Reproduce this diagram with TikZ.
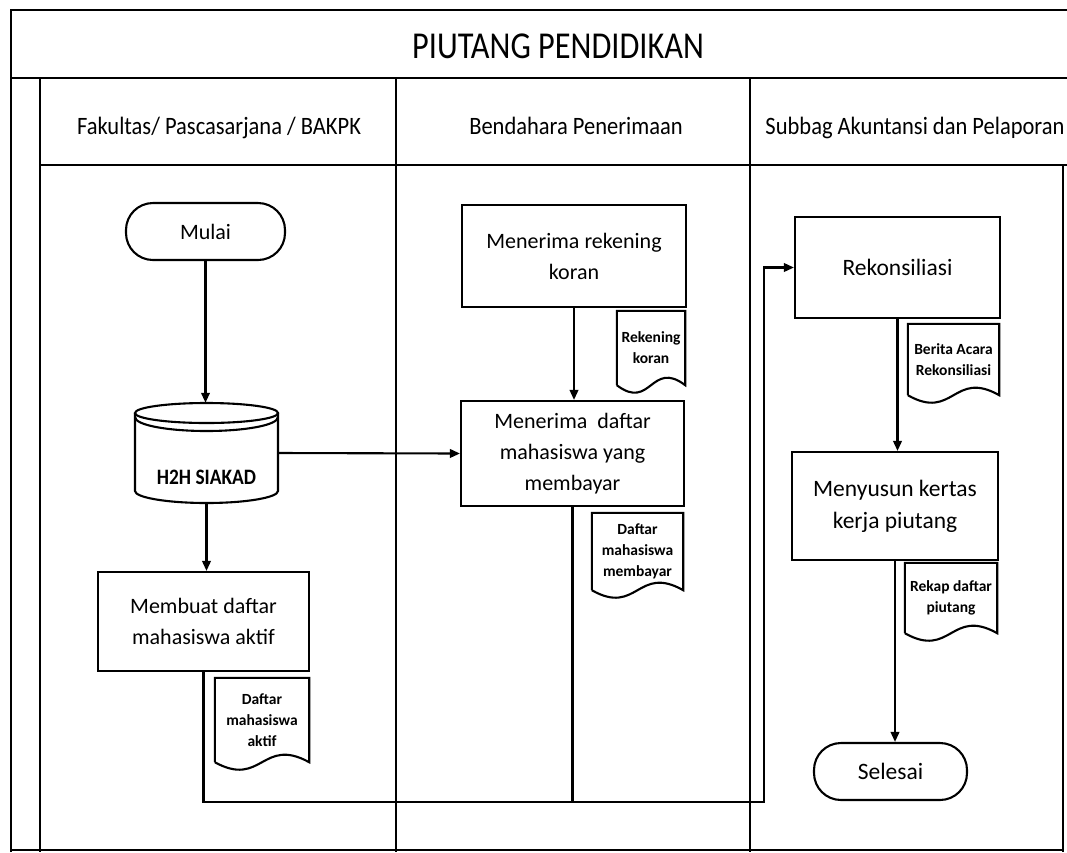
\documentclass[tikz,border=0pt]{standalone}
\usepackage{fontspec}
\setmainfont{Carlito}
\newfontfamily\titlefont[FakeStretch=0.85]{Carlito}
\newfontfamily\headfont[FakeStretch=0.9]{Carlito}
\newfontfamily\dbfont[FakeStretch=0.88]{Carlito}
\usetikzlibrary{arrows.meta,calc}

\tikzset{
  ln/.style={line width=2.1pt},
  arr/.style={ln, -{Triangle[length=10pt,width=8.5pt]}},
  procbox/.style={draw, ln, align=center, inner sep=0pt,
    font=\fontsize{22}{31}\selectfont},
  bigproc/.style={procbox, font=\fontsize{23.5}{32}\selectfont},
  termbox/.style={procbox, rounded corners=27pt},
  doctext/.style={align=center, inner sep=0pt,
    font=\fontsize{15.5}{21}\selectfont\bfseries},
  headtext/.style={anchor=base, font=\headfont\fontsize{25}{30}\selectfont},
  titletext/.style={anchor=base, font=\titlefont\fontsize{38}{44}\selectfont},
}

% document symbol: straight top and sides, wavy bottom edge
\newcommand\docoutline[1]{%
  \draw[ln] (#1.south west) -- (#1.north west) -- (#1.north east) -- (#1.south east)
    .. controls ($(#1.south)+(0,-26)$) and ($(#1.south)+(0,26)$) .. (#1.south west);}

\begin{document}
\begin{tikzpicture}[x=1pt,y=-1pt]
\useasboundingbox (0,0) rectangle (1067,852);

% swimlane frame
\draw[ln] (11,852) -- (11,10) -- (1067,10);
\draw[ln] (11,78) -- (1067,78);
\draw[ln] (40,78) -- (40,852);
\draw[ln] (40,165) -- (1067,165);
\draw[ln] (396,78) -- (396,852);
\draw[ln] (750,78) -- (750,852);
\draw[ln] (1063,165) -- (1063,852);
\draw[ln] (11,850) -- (1063,850);

% title and lane headers
\node[titletext] (title) at (558,58) {PIUTANG PENDIDIKAN};
\node[headtext] (lane1) at (219,134) {Fakultas/ Pascasarjana / BAKPK};
\node[headtext] (lane2) at (576,134) {Bendahara Penerimaan};
\node[headtext] (lane3) at (915,134) {Subbag Akuntansi dan Pelaporan};

% lane 1
\node[termbox, minimum width=159pt, minimum height=57pt] (mulai) at (205.5,231.5) {Mulai};

% database cylinder with a doubled top rim
\node[minimum width=143pt, minimum height=100pt, inner sep=0pt] (h2h) at (206.5,453) {};
\draw[ln] (135,413) -- (135,491)
  .. controls (135,497.5) and (167,503) .. (206.5,503)
  .. controls (246,503) and (278,497.5) .. (278,491) -- (278,413);
\draw[ln] (206.5,413) ellipse [x radius=71.5, y radius=10];
\draw[ln] (135,417) .. controls (135,425) and (167,431) .. (206.5,431)
  .. controls (246,431) and (278,425) .. (278,417);
\node[font=\dbfont\bfseries\fontsize{22}{26}\selectfont] (h2hlabel) at (206.5,477) {H2H SIAKAD};

\node[procbox, minimum width=211pt, minimum height=99pt] (membuat) at (203.5,621.5)
  {Membuat daftar\\mahasiswa aktif};
\node[doctext, minimum width=94pt, minimum height=84pt] (dokaktif) at (262,720)
  {Daftar\\mahasiswa\\aktif};
\docoutline{dokaktif}

% lane 2
\node[procbox, minimum width=224pt, minimum height=102pt] (rekkoran) at (574,256)
  {Menerima rekening\\koran};
\node[doctext, minimum width=68pt, minimum height=74pt] (dokrek) at (651,348)
  {Rekening\\koran};
\docoutline{dokrek}

\node[procbox, minimum width=223pt, minimum height=105pt] (daftar) at (572.5,453.5)
  {Menerima\ \ daftar\\mahasiswa yang\\membayar};
\node[doctext, minimum width=91pt, minimum height=77pt] (dokbayar) at (637.5,551.5)
  {Daftar\\mahasiswa\\membayar};
\docoutline{dokbayar}

% lane 3
\node[bigproc, minimum width=205pt, minimum height=101pt] (rekon) at (897.5,267.5)
  {Rekonsiliasi};
\node[doctext, minimum width=91pt, minimum height=71pt] (dokberita) at (953.5,359.5)
  {Berita Acara\\Rekonsiliasi};
\docoutline{dokberita}

\node[bigproc, minimum width=206pt, minimum height=108pt] (menyusun) at (895,506)
  {Menyusun kertas\\kerja piutang};
\node[doctext, minimum width=92pt, minimum height=70pt] (dokrekap) at (951,598)
  {Rekap daftar\\piutang};
\docoutline{dokrekap}

\node[termbox, bigproc, rounded corners=27pt, minimum width=153pt, minimum height=57pt] (selesai) at (890.5,771.5) {Selesai};

% flow
\coordinate (joinright) at (764,802);
\draw[arr] (mulai.south) -- (mulai.south |- h2h.north);
\draw[arr] (h2h.south) -- (h2h.south |- membuat.north);
\draw[arr] (h2h.east) -- (daftar.west);
\draw[arr] (rekkoran.south) -- (rekkoran.south |- daftar.north);
\draw[arr] (membuat.south) |- (joinright) |- (rekon.west);
\draw[ln] (daftar.south) -- (daftar.south |- joinright);
\draw[arr] (rekon.south) -- (rekon.south |- menyusun.north);
\draw[arr] (menyusun.south) -- (menyusun.south |- selesai.north);
\end{tikzpicture}
\end{document}
